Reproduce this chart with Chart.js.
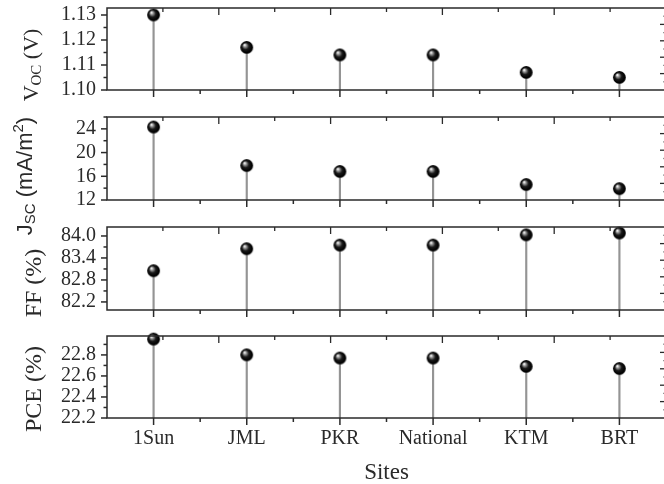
<!DOCTYPE html>
<html>
<head>
<meta charset="utf-8">
<script src="https://cdn.jsdelivr.net/npm/chart.js@4.4.1/dist/chart.umd.min.js"></script>
<style>
  html, body { margin: 0; padding: 0; width: 664px; height: 484px; overflow: hidden; background: #fff; }
  .panel { position: absolute; left: 0; top: 0; width: 680px; height: 484px; }
</style>
</head>
<body>
<div class="panel"><canvas id="vocChart"></canvas></div>
<div class="panel"><canvas id="jscChart"></canvas></div>
<div class="panel"><canvas id="ffChart"></canvas></div>
<div class="panel"><canvas id="pceChart"></canvas></div>
<script>
const sites = ['1Sun', 'JML', 'PKR', 'National', 'KTM', 'BRT'];

const vocValues = [1.130, 1.117, 1.114, 1.114, 1.107, 1.105];
const jscValues = [24.3, 17.8, 16.8, 16.8, 14.6, 13.9];
const ffValues  = [83.05, 83.65, 83.75, 83.75, 84.03, 84.08];
const pceValues = [22.95, 22.80, 22.77, 22.77, 22.69, 22.67];

const vocTicks = [1.10, 1.11, 1.12, 1.13];
const jscTicks = [12, 16, 20, 24];
const ffTicks  = [82.2, 82.8, 83.4, 84.0];
const pceTicks = [22.2, 22.4, 22.6, 22.8];

const serif = '"Liberation Serif", "Times New Roman", serif';
const sans = '"Liberation Sans", Arial, sans-serif';
const ink = '#2a2a2a';

// shaded ball used as the point marker
function makeBall(r) {
    const c = document.createElement('canvas');
    c.width = c.height = Math.ceil(r * 2 + 2);
    const g = c.getContext('2d');
    const m = c.width / 2;
    const grad = g.createRadialGradient(m - r * 0.35, m - r * 0.4, r * 0.05, m, m, r);
    grad.addColorStop(0, '#ffffff');
    grad.addColorStop(0.2, '#9a9a9a');
    grad.addColorStop(0.5, '#1a1a1a');
    grad.addColorStop(0.85, '#000000');
    grad.addColorStop(1, '#3a3a3a');
    g.fillStyle = grad;
    g.beginPath();
    g.arc(m, m, r, 0, Math.PI * 2);
    g.fill();
    return c;
}
const ball = makeBall(6.5);

// rotated axis title with sub/superscripts, read bottom to top
function drawTitle(ctx, parts, family, size, bx, cy) {
    ctx.save();
    ctx.translate(bx, cy);
    ctx.rotate(-Math.PI / 2);
    ctx.fillStyle = ink;
    ctx.textBaseline = 'alphabetic';
    const fontOf = p => (p.small ? size * 0.68 : size) + 'px ' + family;
    let total = 0;
    const widths = parts.map(p => { ctx.font = fontOf(p); const w = ctx.measureText(p.t).width; total += w; return w; });
    let x = -total / 2;
    parts.forEach((p, i) => {
        ctx.font = fontOf(p);
        const dy = p.small === 'sub' ? size * 0.14 : p.small === 'sup' ? -size * 0.42 : 0;
        ctx.fillText(p.t, x, dy);
        x += widths[i];
    });
    ctx.restore();
}

function makePanel(id, values, ticks, min, max, decimals, top, bottom, title, isBottom) {
    const frame = {
        id: 'originFrame',
        afterDatasetsDraw(chart) {
            const { ctx, chartArea: a, scales: { x, y } } = chart;
            const line = (x1, y1, x2, y2) => { ctx.beginPath(); ctx.moveTo(x1, y1); ctx.lineTo(x2, y2); ctx.stroke(); };
            ctx.save();
            ctx.strokeStyle = ink;
            ctx.lineWidth = 1.5;
            ctx.strokeRect(a.left, a.top, a.width, a.height);

            // left axis: major ticks at the labels, minor halfway, outward
            const step = ticks[1] - ticks[0];
            for (let j = -2; ; j++) {
                const v = ticks[0] + j * step / 2;
                if (v > y.max + 1e-9) break;
                if (v < y.min - 1e-9) continue;
                const py = y.getPixelForValue(v);
                line(a.left - (j % 2 === 0 ? 6 : 3.5), py, a.left, py);
            }
            // bottom axis: major under each site, minor between
            sites.forEach((s, i) => {
                const px = x.getPixelForValue(i);
                line(px, a.bottom, px, a.bottom + 7);
                if (i > 0) {
                    const mx = (x.getPixelForValue(i - 1) + px) / 2;
                    line(mx, a.bottom, mx, a.bottom + 4);
                }
            });
            // top and right axes carry their own 5-division ticks, inward
            ctx.lineWidth = 1.3;
            for (let k = 1; k < 10; k++) {
                const major = k % 2 === 0;
                const px = a.left + a.width * k / 10;
                line(px, a.top, px, a.top + (major ? 7 : 4));
                const py = a.bottom - a.height * k / 10;
                line(a.right, py, a.right - (major ? 6 : 2.5), py);
            }
            ctx.restore();
            drawTitle(ctx, title.parts, title.family, title.size, title.bx, title.cy);
        }
    };

    return new Chart(document.getElementById(id), {
        type: 'bar',
        data: {
            labels: sites,
            datasets: [
                {
                    type: 'line',
                    data: values,
                    showLine: false,
                    pointStyle: ball,
                    pointRadius: 6.5,
                    pointHoverRadius: 6.5,
                    clip: false,
                    order: 0
                },
                {
                    type: 'bar',
                    data: values,
                    backgroundColor: '#949494',
                    barThickness: 1.5,
                    order: 1
                }
            ]
        },
        options: {
            responsive: true,
            maintainAspectRatio: false,
            animation: false,
            events: [],
            layout: { padding: { top: top, bottom: isBottom ? 0 : 484 - bottom, left: 0, right: 14 } },
            plugins: { legend: { display: false }, tooltip: { enabled: false } },
            scales: {
                x: {
                    display: isBottom,
                    offset: true,
                    grid: { display: false, drawTicks: false, offset: true },
                    border: { display: false },
                    ticks: { padding: 9, color: ink, autoSkip: false, maxRotation: 0, font: { family: serif, size: 20 } },
                    title: { display: isBottom, text: 'Sites', color: ink, padding: 0, font: { family: serif, size: 23, lineHeight: 1 } },
                    afterFit: s => {
                        if (isBottom) { s.height = 484 - bottom; }
                        s.paddingLeft = 0;
                        s.paddingRight = 0;
                    }
                },
                y: {
                    min: min,
                    max: max,
                    beginAtZero: false,
                    afterBuildTicks: s => { s.ticks = ticks.map(v => ({ value: v })); },
                    afterFit: s => { s.width = 107; s.paddingTop = 0; s.paddingBottom = 0; },
                    grid: { display: false, drawTicks: false },
                    border: { display: false },
                    ticks: { padding: 11, color: ink, font: { family: serif, size: 20 }, callback: v => Number(v).toFixed(decimals) }
                }
            }
        },
        plugins: [frame]
    });
}

makePanel('vocChart', vocValues, vocTicks, 1.10, 1.1328, 2, 8, 90,
    { parts: [{ t: 'V' }, { t: 'OC', small: 'sub' }, { t: ' (V)' }], family: serif, size: 22, bx: 38, cy: 65 }, false);
makePanel('jscChart', jscValues, jscTicks, 12, 26.0, 0, 117, 200,
    { parts: [{ t: 'J' }, { t: 'SC', small: 'sub' }, { t: ' (mA/m' }, { t: '2', small: 'sup' }, { t: ')' }], family: sans, size: 22, bx: 32, cy: 176 }, false);
makePanel('ffChart', ffValues, ffTicks, 81.98, 84.245, 1, 227, 310,
    { parts: [{ t: 'FF (%)' }], family: serif, size: 24, bx: 41, cy: 283 }, false);
makePanel('pceChart', pceValues, pceTicks, 22.2, 22.98, 1, 336, 418,
    { parts: [{ t: 'PCE (%)' }], family: serif, size: 24, bx: 41, cy: 389 }, true);
</script>
</body>
</html>
